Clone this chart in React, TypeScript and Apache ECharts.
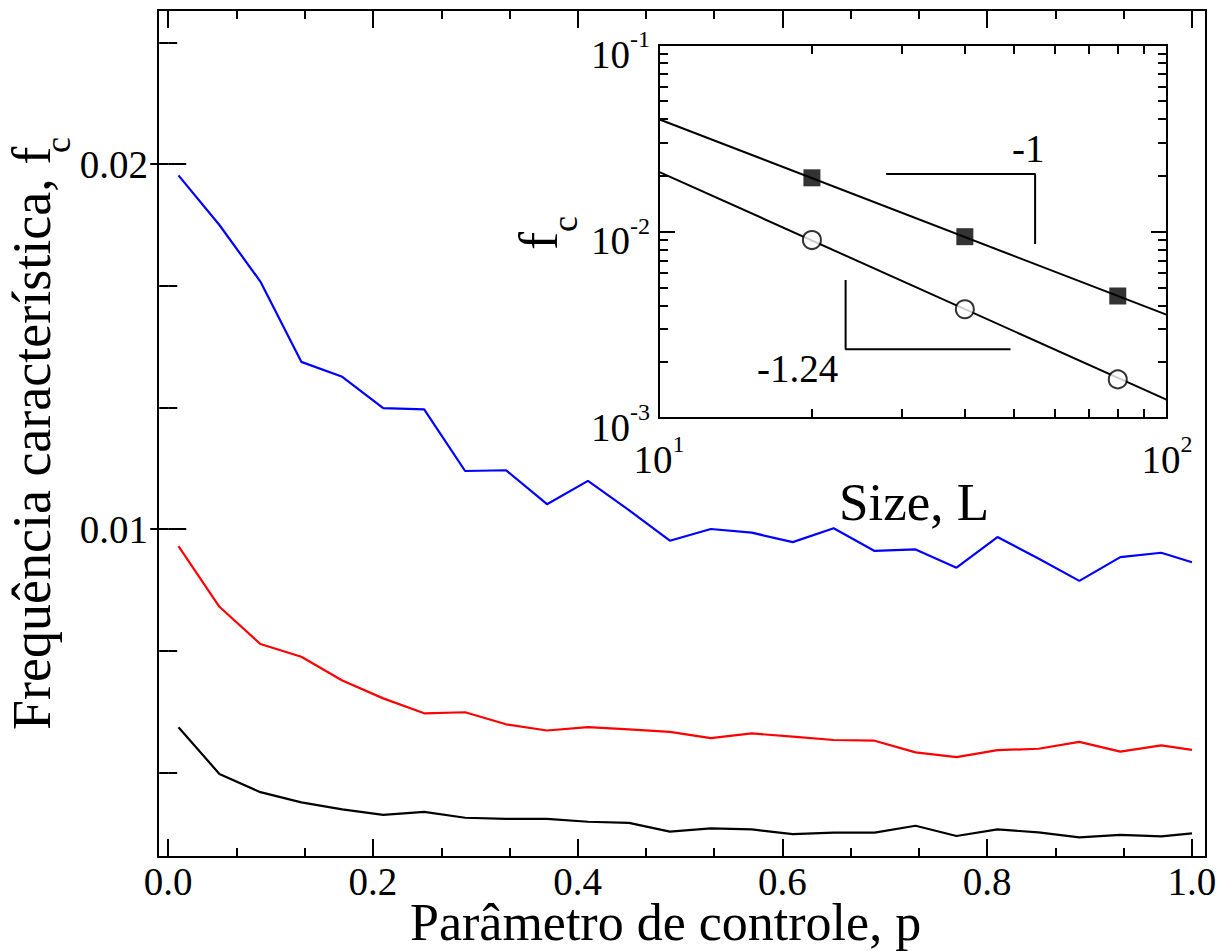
import React, { useEffect, useRef } from 'react';
import * as echarts from 'echarts';

// ---------- main plot data ----------
const pValues = [0.01, 0.05, 0.09, 0.13, 0.17, 0.21, 0.25, 0.29, 0.33, 0.37, 0.41, 0.45, 0.49,
  0.53, 0.57, 0.61, 0.65, 0.69, 0.73, 0.77, 0.81, 0.85, 0.89, 0.93, 0.97, 1.0];
const blueValues = [0.01969, 0.01833, 0.01678, 0.01458, 0.01417, 0.01331, 0.01328, 0.01159, 0.01161,
  0.01068, 0.01132, 0.01052, 0.00968, 0.01000, 0.00990, 0.00964, 0.01002, 0.00940, 0.00944, 0.00894,
  0.00978, 0.00919, 0.00858, 0.00923, 0.00935, 0.00909];
const redValues = [0.00953, 0.00787, 0.00685, 0.00650, 0.00585, 0.00536, 0.00495, 0.00498, 0.00465,
  0.00448, 0.00457, 0.00451, 0.00444, 0.00427, 0.00440, 0.00431, 0.00422, 0.00420, 0.00388, 0.00375,
  0.00394, 0.00398, 0.00417, 0.00390, 0.00407, 0.00395];
const blackValues = [0.00457, 0.00329, 0.00279, 0.00251, 0.00232, 0.00217, 0.00225, 0.00209, 0.00206,
  0.00206, 0.00198, 0.00195, 0.00171, 0.00180, 0.00177, 0.00164, 0.00168, 0.00168, 0.00187, 0.00159,
  0.00177, 0.00169, 0.00155, 0.00162, 0.00158, 0.00166];

// ---------- inset data ----------
const insetSizes = [20, 40, 80];
const squareValues = [0.0194, 0.00938, 0.00451];
const circleValues = [0.0090, 0.00383, 0.00161];
const fitSizes = [10, 100];
const fitSquareValues = [0.040, 0.00357];
const fitCircleValues = [0.0209, 0.00125];
const slopeUpperSizes = [28, 55, 55];
const slopeUpperValues = [0.02034, 0.02034, 0.00857];
const slopeLowerSizes = [23.3, 23.3, 49.2];
const slopeLowerValues = [0.0055, 0.002336, 0.002336];

// ---------- ticks ----------
const xMajorTicks = [0, 0.2, 0.4, 0.6, 0.8, 1.0];
const xMinorTicks = [0.0667, 0.1333, 0.2667, 0.3333, 0.4667, 0.5333, 0.6667, 0.7333, 0.8667, 0.9333];
const yMajorTicks = [0.01, 0.02];
const yMinorTicks = [0.00333, 0.00667, 0.01333, 0.01667, 0.02333];
const insetXMajor = [10, 100];
const insetXMinor = [20, 30, 40, 50, 60, 70, 80, 90];
const insetYMajor = [0.001, 0.01, 0.1];
const insetYMinor = [0.002, 0.003, 0.004, 0.005, 0.006, 0.007, 0.008, 0.009,
  0.02, 0.03, 0.04, 0.05, 0.06, 0.07, 0.08, 0.09];

const FONT = '"Liberation Serif", "Times New Roman", serif';
const X_MIN = -0.01, X_MAX = 1.0137;
const Y_MIN = 0.001014, Y_MAX = 0.02422;

const pairs = (xs: number[], ys: number[]) => xs.map((x, i) => [x, ys[i]]);

const tickStyle = { color: '#000', width: 2 };

function mainX(position: string, ticks: number[], len: number, labels: boolean) {
  return {
    type: 'value', gridIndex: 0, position, min: X_MIN, max: X_MAX,
    axisLine: { show: false }, splitLine: { show: false },
    axisTick: { show: true, inside: true, length: len, customValues: ticks, lineStyle: tickStyle },
    axisLabel: labels
      ? { show: true, customValues: ticks, margin: 6, color: '#000', fontFamily: FONT, fontSize: 39,
          lineHeight: 36, formatter: (v: number) => v.toFixed(1) }
      : { show: false },
  };
}
function mainY(position: string, ticks: number[], len: number, labels: boolean) {
  return {
    type: 'value', gridIndex: 0, position, min: Y_MIN, max: Y_MAX,
    axisLine: { show: false }, splitLine: { show: false },
    axisTick: { show: true, inside: true, length: len, customValues: ticks, lineStyle: tickStyle },
    axisLabel: labels
      ? { show: true, customValues: ticks, margin: 10, color: '#000', fontFamily: FONT, fontSize: 39,
          lineHeight: 36, formatter: (v: number) => v.toFixed(2) }
      : { show: false },
  };
}
const powRich = {
  b: { fontSize: 39, lineHeight: 54, fontFamily: FONT, color: '#000' },
  s: { fontSize: 24, lineHeight: 24, fontFamily: FONT, color: '#000', verticalAlign: 'top' },
};
const powFormatter = (v: number) => `{b|10}{s|${Math.round(Math.log10(v))}}`;

function insetX(position: string, ticks: number[], len: number, labels: boolean) {
  return {
    type: 'log', logBase: 10, gridIndex: 1, position, min: 10, max: 100,
    axisLine: { show: false }, splitLine: { show: false }, minorTick: { show: false },
    axisTick: { show: len > 0, inside: true, length: len, customValues: ticks, lineStyle: tickStyle },
    axisLabel: labels
      ? { show: true, customValues: insetXMajor, margin: 14, formatter: powFormatter, rich: powRich }
      : { show: false },
  };
}
function insetY(position: string, ticks: number[], len: number, labels: boolean) {
  return {
    type: 'log', logBase: 10, gridIndex: 1, position, min: 0.001, max: 0.1,
    axisLine: { show: false }, splitLine: { show: false }, minorTick: { show: false },
    axisTick: { show: true, inside: true, length: len, customValues: ticks, lineStyle: tickStyle },
    axisLabel: labels
      ? { show: true, customValues: insetYMajor, margin: 9, padding: [18, 0, 0, 0],
          formatter: powFormatter, rich: powRich }
      : { show: false },
  };
}

function txt(x: number, y: number, text: string, size: number, rotate = false, lineHeight?: number) {
  return {
    type: 'text', x, y, rotation: rotate ? Math.PI / 2 : 0, z: 100,
    style: {
      text, fill: '#000', fontFamily: FONT, fontSize: size, lineHeight: lineHeight ?? size,
      align: 'left', verticalAlign: 'middle', textAlign: 'left', textVerticalAlign: 'middle',
    },
  };
}

export default function App() {
  const ref = useRef<HTMLDivElement>(null);
  useEffect(() => {
    if (!ref.current) return;
    const chart = echarts.init(ref.current, undefined, { renderer: 'svg' });
    const lineSeries = (name: string, data: number[][], color: string, xi: number, yi: number, w = 2.2) => ({
      name, type: 'line', data, xAxisIndex: xi, yAxisIndex: yi, showSymbol: false, symbol: 'none',
      lineStyle: { color, width: w }, itemStyle: { color }, silent: true,
    });
    chart.setOption({
      animation: false,
      backgroundColor: '#fff',
      grid: [
        { left: 158, top: 10, width: 1048, height: 847, show: true, borderColor: '#000', borderWidth: 2,
          backgroundColor: 'transparent' },
        { left: 659, top: 45, width: 508, height: 373, show: true, borderColor: '#000', borderWidth: 2,
          backgroundColor: '#fff' },
      ],
      xAxis: [
        mainX('bottom', xMajorTicks, 18, true),
        mainX('bottom', xMinorTicks, 9, false),
        mainX('top', xMajorTicks, 18, false),
        mainX('top', xMinorTicks, 9, false),
        insetX('bottom', insetXMinor, 9, true),
        insetX('top', insetXMinor, 9, false),
      ],
      yAxis: [
        mainY('left', yMajorTicks, 18, true),
        mainY('left', yMinorTicks, 9, false),
        mainY('right', yMajorTicks, 18, false),
        mainY('right', yMinorTicks, 9, false),
        insetY('left', [0.01], 16, true),
        insetY('left', insetYMinor, 9, false),
        insetY('right', [0.01], 16, false),
        insetY('right', insetYMinor, 9, false),
      ],
      series: [
        lineSeries('black', pairs(pValues, blackValues), '#000000', 0, 0),
        lineSeries('red', pairs(pValues, redValues), '#ff0000', 0, 0),
        lineSeries('blue', pairs(pValues, blueValues), '#0000ff', 0, 0),
        lineSeries('fitSquare', pairs(fitSizes, fitSquareValues), '#000', 4, 4, 2),
        lineSeries('fitCircle', pairs(fitSizes, fitCircleValues), '#000', 4, 4, 2),
        lineSeries('slopeUpper', pairs(slopeUpperSizes, slopeUpperValues), '#000', 4, 4, 2),
        lineSeries('slopeLower', pairs(slopeLowerSizes, slopeLowerValues), '#000', 4, 4, 2),
        {
          name: 'squares', type: 'scatter', xAxisIndex: 4, yAxisIndex: 4, symbol: 'rect', symbolSize: 17,
          data: pairs(insetSizes, squareValues), itemStyle: { color: '#000' }, z: 5, silent: true,
        },
        {
          name: 'circles', type: 'scatter', xAxisIndex: 4, yAxisIndex: 4, symbol: 'circle', symbolSize: 18,
          data: pairs(insetSizes, circleValues),
          itemStyle: { color: '#fff', borderColor: '#000', borderWidth: 2 }, z: 5, silent: true,
        },
      ],
      graphic: [
        txt(410, 922, 'Parâmetro de controle, p', 52, false, 44),
        txt(32, 730, 'Frequência característica, f', 54, true),
        txt(58, 153, 'c', 36, true),
        txt(539, 250, 'f', 54, true),
        txt(565, 232, 'c', 36, true),
        txt(839, 502, 'Size, L', 53),
        txt(1012, 148, '-1', 39),
        txt(757, 368, '-1.24', 39),
      ],
    });
    return () => chart.dispose();
  }, []);
  return <div ref={ref} style={{ position: 'fixed', left: 0, top: 0, width: 1228, height: 951 }} />;
}
